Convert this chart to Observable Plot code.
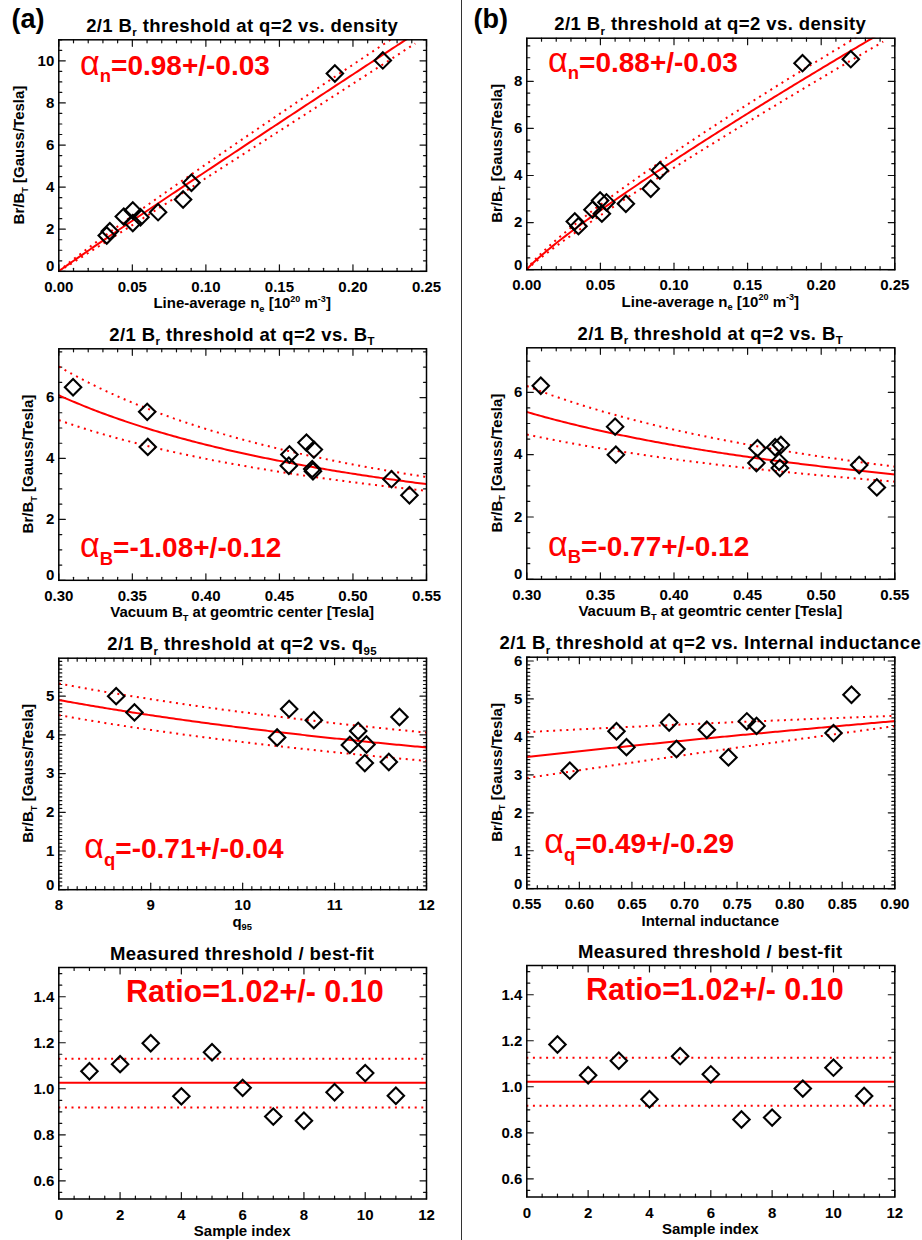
<!DOCTYPE html>
<html><head><meta charset="utf-8">
<script src="https://cdn.jsdelivr.net/npm/d3@7"></script>
<script src="https://cdn.jsdelivr.net/npm/@observablehq/plot@0.6"></script>
<style>
html,body{margin:0;padding:0;background:#fff;}
#fig{position:relative;width:922px;height:1240px;overflow:hidden;background:#fff;}
#sep{position:absolute;left:460.8px;top:0;width:1.6px;height:1240px;background:#333;}
#fig svg{position:absolute;overflow:visible;}
text{white-space:pre;}
</style></head><body><div id="fig"><div id="sep"></div></div>
<script>
// ---------------- Column (a) data ----------------
const densityA   = [0.0326, 0.0347, 0.0442, 0.0503, 0.0503, 0.0555, 0.0675, 0.0845, 0.0902, 0.1877, 0.2203];
const brDensityA = [1.70, 1.90, 2.60, 2.89, 2.29, 2.57, 2.81, 3.41, 4.21, 9.40, 10.02];
const btA        = [0.3097, 0.3601, 0.3605, 0.4568, 0.4564, 0.4684, 0.4734, 0.4723, 0.4728, 0.5262, 0.5384];
const brBtA      = [6.34, 5.53, 4.38, 4.13, 3.76, 4.52, 4.29, 3.65, 3.58, 3.32, 2.79];
const q95A       = [8.624, 8.823, 10.375, 10.506, 10.774, 11.166, 11.257, 11.347, 11.329, 11.590, 11.706];
const brQ95A     = [5.00, 4.58, 3.93, 4.67, 4.38, 3.74, 4.10, 3.75, 3.27, 3.30, 4.46];
const sampleIndex = [1, 2, 3, 4, 5, 6, 7, 8, 9, 10, 11];
const ratioA     = [1.076, 1.107, 1.198, 0.967, 1.159, 1.004, 0.879, 0.861, 0.985, 1.068, 0.970];

// ---------------- Column (b) data ----------------
const densityB   = [0.0326, 0.0351, 0.0446, 0.0498, 0.0510, 0.0541, 0.0673, 0.0842, 0.0904, 0.1873, 0.2201];
const brDensityB = [2.05, 1.85, 2.55, 2.94, 2.38, 2.86, 2.80, 3.44, 4.21, 8.77, 8.94];
const btB        = [0.3095, 0.3600, 0.3605, 0.4567, 0.4560, 0.4687, 0.4726, 0.4714, 0.4719, 0.5258, 0.5378];
const brBtB      = [6.21, 4.90, 4.00, 4.21, 3.73, 4.24, 4.31, 3.77, 3.57, 3.67, 2.95];
const liB        = [0.5909, 0.6353, 0.6448, 0.6854, 0.6924, 0.7212, 0.7418, 0.7593, 0.7685, 0.8417, 0.8588];
const brLiB      = [3.11, 4.15, 3.73, 4.38, 3.68, 4.19, 3.46, 4.41, 4.29, 4.10, 5.11];
const ratioB     = [1.184, 1.050, 1.113, 0.946, 1.133, 1.054, 0.858, 0.866, 0.992, 1.083, 0.960];

// ---------------- Fits: [coefficient, exponent, exponent error] ----------------
const fitDensityA = [45.3, 0.98, 0.03];
const fitDensityB = [35.2, 0.88, 0.03];
const fitBtA      = [1.655, -1.08, 0.12];
const fitBtB      = [2.125, -0.77, 0.12];
const fitQ95A     = [21.45, -0.71, 0.04];
const fitLiB      = [4.65, 0.49, 0.29];
// ratio panels: [mean, upper, lower]
const ratioLinesA = [1.026, 1.130, 0.919];
const ratioLinesB = [1.022, 1.126, 0.917];

// ---------------- Tick labels ----------------
const densTicks     = [0, 0.05, 0.10, 0.15, 0.20, 0.25];
const brDensTicksA  = [0, 2, 4, 6, 8, 10];
const brDensTicksB  = [0, 2, 4, 6, 8];
const btTicks       = [0.30, 0.35, 0.40, 0.45, 0.50, 0.55];
const brBtTicks     = [0, 2, 4, 6];
const q95Ticks      = [8, 9, 10, 11, 12];
const brQ95Ticks    = [0, 1, 2, 3, 4, 5];
const liTicks       = [0.55, 0.60, 0.65, 0.70, 0.75, 0.80, 0.85, 0.90];
const brLiTicks     = [0, 1, 2, 3, 4, 5, 6];
const sampleTicks   = [0, 2, 4, 6, 8, 10, 12];
const ratioTicks    = [0.6, 0.8, 1.0, 1.2, 1.4];

// ---------------- helpers ----------------
const FONT = '"Liberation Sans", Arial, Helvetica, sans-serif';
const RED = "#ff0000";
const DOTS = "2,4.6";
const tickShape = {draw(ctx, l) { ctx.moveTo(0, 0); ctx.lineTo(0, -l); }};

function stepTicks(domain, step) {
  const lo = Math.ceil(domain[0] / step - 1e-6), hi = Math.floor(domain[1] / step + 1e-6);
  return d3.range(lo, hi + 1).map(i => +(i * step).toFixed(6));
}

function tickMarks(xMajor, xMinor, yMajor, yMinor) {
  const c = {stroke: "#111", strokeWidth: 1.2, shape: tickShape, anchor: "start"};
  const marks = [];
  for (const [vals, len] of [[xMinor, 3], [xMajor, 6.5]]) {
    marks.push(Plot.vector(vals, {...c, x: d => d, frameAnchor: "bottom", rotate: 0, length: len}));
    marks.push(Plot.vector(vals, {...c, x: d => d, frameAnchor: "top", rotate: 180, length: len}));
  }
  for (const [vals, len] of [[yMinor, 3], [yMajor, 6.5]]) {
    marks.push(Plot.vector(vals, {...c, y: d => d, frameAnchor: "left", rotate: 90, length: len}));
    marks.push(Plot.vector(vals, {...c, y: d => d, frameAnchor: "right", rotate: -90, length: len}));
  }
  return marks;
}

function fitCurves(fit, x0, x1) {
  const [C, a, da] = fit;
  const n = 160, pts = [];
  for (const [k, e] of [["fit", a], ["lo", a - da], ["hi", a + da]])
    for (let i = 0; i <= n; i++) { const x = x0 + (x1 - x0) * i / n; pts.push({k, x, y: C * Math.pow(x, e)}); }
  return pts;
}

function rich(sel, x, y, parts, {size, anchor = "start", fill = "#000", weight = "bold", rotate = false, spacing = 0}) {
  const t = sel.append("text").attr("x", x).attr("y", y).attr("font-size", size)
    .attr("font-weight", weight).attr("fill", fill).attr("text-anchor", anchor)
    .attr("font-family", FONT).attr("letter-spacing", spacing);
  if (rotate) t.attr("transform", `rotate(-90 ${x} ${y})`);
  let cur = 0;
  for (const p of parts) {
    const [str, kind] = typeof p === "string" ? [p, "n"] : p;
    let off = 0, fs = size, fw = null;
    if (kind === "sub") { off = 0.24 * size; fs = 0.62 * size; }
    if (kind === "asub") { off = 0.26 * size; fs = 0.66 * size; }
    if (kind === "sup") { off = -0.42 * size; fs = 0.6 * size; }
    if (kind === "alpha") { fs = 1.22 * size; fw = "normal"; }
    const ts = t.append("tspan").attr("dy", off - cur).attr("font-size", fs).text(str);
    if (fw) ts.attr("font-weight", fw);
    cur = off;
  }
  return t;
}

// ---------------- panel configs ----------------
const FH = 231.5;
const TITLE_BR = ["2/1 B", ["r", "sub"], " threshold at q=2 vs. "];
const YLAB = ["Br/B", ["T", "sub"], " [Gauss/Tesla]"];
const panels = [
  {col: 0, row: 0, top: 39.3, xs: densityA, ys: brDensityA, fit: fitDensityA, fitEnd: 1.1 * d3.max(densityA),
   xDomain: [0, 0.25], yDomain: [0, 11.0], xMajor: densTicks, xStep: 0.01, yMajor: brDensTicksA, yStep: 0.5,
   xFmt: d => d.toFixed(2), yFmt: d => String(d),
   title: [...TITLE_BR, "density"], xlab: ["Line-average n", ["e", "sub"], " [10", ["20", "sup"], " m", ["-3", "sup"], "]"],
   ylabX: 24.5, note: [["α", "alpha"], ["n", "asub"], "=0.98+/-0.03"], noteX: 80, noteY: 75, label: "(a)"},
  {col: 1, row: 0, top: 37.7, xs: densityB, ys: brDensityB, fit: fitDensityB, fitEnd: 1.1 * d3.max(densityB),
   xDomain: [0, 0.25], yDomain: [0, 9.83], xMajor: densTicks, xStep: 0.01, yMajor: brDensTicksB, yStep: 0.5,
   xFmt: d => d.toFixed(2), yFmt: d => String(d),
   title: [...TITLE_BR, "density"], xlab: ["Line-average n", ["e", "sub"], " [10", ["20", "sup"], " m", ["-3", "sup"], "]"],
   ylabX: 39.7, note: [["α", "alpha"], ["n", "asub"], "=0.88+/-0.03"], noteX: 86, noteY: 71.7, label: "(b)"},
  {col: 0, row: 1, top: 348.3, xs: btA, ys: brBtA, fit: fitBtA, fitEnd: 0.55,
   xDomain: [0.30, 0.55], yDomain: [0, 7.6], xMajor: btTicks, xStep: 0.01, yMajor: brBtTicks, yStep: 0.5,
   xFmt: d => d.toFixed(2), yFmt: d => String(d),
   title: [...TITLE_BR, "B", ["T", "sub"]], xlab: ["Vacuum B", ["T", "sub"], " at geomtric center [Tesla]"],
   ylabX: 33.1, note: [["α", "alpha"], ["B", "asub"], "=-1.08+/-0.12"], noteX: 80, noteY: 247.3},
  {col: 1, row: 1, top: 347.3, xs: btB, ys: brBtB, fit: fitBtB, fitEnd: 0.55,
   xDomain: [0.30, 0.55], yDomain: [0, 7.43], xMajor: btTicks, xStep: 0.01, yMajor: brBtTicks, yStep: 0.5,
   xFmt: d => d.toFixed(2), yFmt: d => String(d),
   title: [...TITLE_BR, "B", ["T", "sub"]], xlab: ["Vacuum B", ["T", "sub"], " at geomtric center [Tesla]"],
   ylabX: 39.7, note: [["α", "alpha"], ["B", "asub"], "=-0.77+/-0.12"], noteX: 86, noteY: 245.7},
  {col: 0, row: 2, top: 657.7, xs: q95A, ys: brQ95A, fit: fitQ95A, fitEnd: 12,
   xDomain: [8, 12], yDomain: [0, 5.98], xMajor: q95Ticks, xStep: 0.1, yMajor: brQ95Ticks, yStep: 0.1,
   xFmt: d => String(d), yFmt: d => String(d),
   title: [...TITLE_BR, "q", ["95", "sub"]], xlab: ["q", ["95", "sub"]],
   ylabX: 33.0, note: [["α", "alpha"], ["q", "asub"], "=-0.71+/-0.04"], noteX: 84.3, noteY: 238.3},
  {col: 1, row: 2, top: 656.7, xs: liB, ys: brLiB, fit: fitLiB, fitEnd: 0.90,
   xDomain: [0.55, 0.90], yDomain: [0, 6.1], xMajor: liTicks, xStep: 0.01, yMajor: brLiTicks, yStep: 0.1,
   xFmt: d => d.toFixed(2), yFmt: d => String(d),
   title: [...TITLE_BR, "Internal inductance"], xlab: ["Internal inductance"],
   ylabX: 39.7, note: [["α", "alpha"], ["q", "asub"], "=0.49+/-0.29"], noteX: 82.3, noteY: 233.3},
  {col: 0, row: 3, top: 967, xs: sampleIndex, ys: ratioA, ratio: ratioLinesA,
   xDomain: [0, 12], yDomain: [0.521, 1.527], xMajor: sampleTicks, xStep: 0.5, yMajor: ratioTicks, yStep: 0.05,
   xFmt: d => String(d), yFmt: d => d.toFixed(1),
   title: ["Measured threshold / best-fit"], xlab: ["Sample index"],
   ylabX: null, note: ["Ratio=1.02+/- 0.10"], noteX: 126, noteY: 71.7, noteSize: 30.5},
  {col: 1, row: 3, top: 965, xs: sampleIndex, ys: ratioB, ratio: ratioLinesB,
   xDomain: [0, 12], yDomain: [0.521, 1.527], xMajor: sampleTicks, xStep: 0.5, yMajor: ratioTicks, yStep: 0.05,
   xFmt: d => String(d), yFmt: d => d.toFixed(1),
   title: ["Measured threshold / best-fit"], xlab: ["Sample index"],
   ylabX: null, note: ["Ratio=1.02+/- 0.10"], noteX: 124, noteY: 70, noteSize: 30.5}
];

const fig = document.getElementById("fig");
for (const p of panels) {
  const W = 460, H = 310;
  const mL = p.col ? 64.3 : 58.3, mR = p.col ? 27.7 : 34;
  const mT = p.top - p.row * 310, mB = H - mT - FH;
  const xMinor = stepTicks(p.xDomain, p.xStep).filter(v => !p.xMajor.some(m => Math.abs(m - v) < 1e-6));
  const yMinor = stepTicks(p.yDomain, p.yStep).filter(v => !p.yMajor.some(m => Math.abs(m - v) < 1e-6));
  const idx = d3.range(p.xs.length);
  const marks = [...tickMarks(p.xMajor, xMinor, p.yMajor, yMinor)];
  if (p.fit) {
    const pts = fitCurves(p.fit, p.xDomain[0], p.fitEnd);
    marks.push(Plot.line(pts.filter(d => d.k !== "fit"), {x: "x", y: "y", z: "k", stroke: RED, strokeWidth: 2,
      strokeDasharray: DOTS, strokeLinecap: "butt", strokeLinejoin: "miter", clip: true}));
    marks.push(Plot.line(pts.filter(d => d.k === "fit"), {x: "x", y: "y", stroke: RED, strokeWidth: 2, clip: true}));
  }
  if (p.ratio) {
    marks.push(Plot.ruleY([p.ratio[1], p.ratio[2]], {stroke: RED, strokeWidth: 2, strokeDasharray: DOTS}));
    marks.push(Plot.ruleY([p.ratio[0]], {stroke: RED, strokeWidth: 2}));
  }
  marks.push(Plot.dot(idx, {x: i => p.xs[i], y: i => p.ys[i], symbol: "diamond2", r: 7.4, stroke: "#000", strokeWidth: 2.1, fill: "none"}));
  marks.push(Plot.frame({stroke: "#000", strokeWidth: 1.5}));
  // tick labels
  const lab = {fontSize: 15, fontWeight: "bold", fill: "#000"};
  marks.push(Plot.text(p.xMajor, {...lab, x: d => d, text: p.xFmt, frameAnchor: "bottom", lineAnchor: "bottom", dy: 20.5}));
  const yEdge = p.yMajor.filter(v => Math.abs(v - p.yDomain[0]) < 1e-6);
  const yIn = p.yMajor.filter(v => Math.abs(v - p.yDomain[0]) >= 1e-6);
  marks.push(Plot.text(yIn, {...lab, y: d => d, text: p.yFmt, frameAnchor: "left", textAnchor: "end", lineAnchor: "middle", dx: -4.5}));
  marks.push(Plot.text(yEdge, {...lab, y: d => d, text: p.yFmt, frameAnchor: "left", textAnchor: "end", lineAnchor: "bottom", dx: -4.5}));

  const svg = Plot.plot({
    width: W, height: H, marginLeft: mL, marginRight: mR, marginTop: mT, marginBottom: mB,
    x: {domain: p.xDomain, axis: null}, y: {domain: p.yDomain, axis: null},
    style: {fontFamily: FONT, fontWeight: "bold", fontSize: "15px", background: "transparent", color: "#000"},
    marks
  });
  svg.style.left = (p.col ? 462 : 0) + "px";
  svg.style.top = (p.row * 310) + "px";
  const s = d3.select(svg);
  const cx = (mL + (W - mR)) / 2;
  rich(s, cx, mT - 7.5, p.title, {size: 18.5, anchor: "middle", spacing: 0.4});
  rich(s, cx, mT + FH + 37.5, p.xlab, {size: 15, anchor: "middle"});
  if (p.ylabX != null) rich(s, p.ylabX, mT + FH / 2, YLAB, {size: 15, anchor: "middle", rotate: true});
  rich(s, p.noteX, p.noteY, p.note, {size: p.noteSize || 28, fill: RED});
  if (p.label) rich(s, 11.5, 28, [p.label], {size: 27});
  fig.appendChild(svg);
}
</script></body></html>
